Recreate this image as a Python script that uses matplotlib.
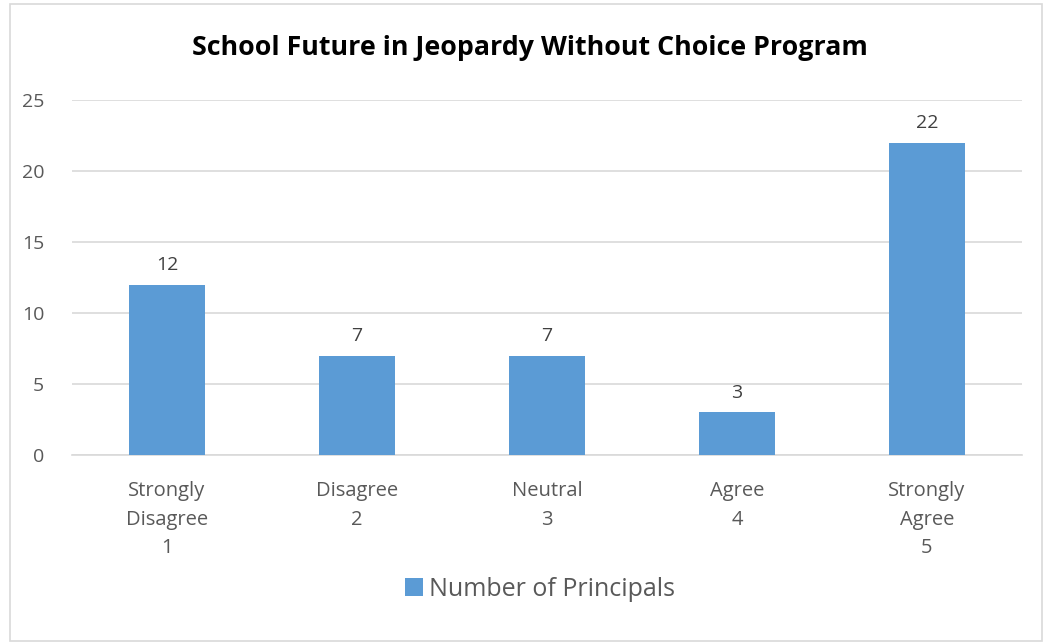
import numpy as np
import matplotlib
matplotlib.use("Agg")
import matplotlib.pyplot as plt
from matplotlib.patches import Rectangle

# data
categories = ["Strongly\nDisagree\n1", "Disagree\n2", "Neutral\n3", "Agree\n4", "Strongly\nAgree\n5"]
principals = [12, 7, 7, 3, 22]
yticks = [0, 5, 10, 15, 20, 25]

plt.rcParams['font.family'] = ['Open Sans', 'DejaVu Sans']
grey = '#595959'
blue = '#5B9BD5'

fig = plt.figure(figsize=(10.46, 6.44), dpi=100)
ax = fig.add_axes([72/1046, 1-455/644, 950/1046, 355/644])

x = np.arange(len(categories))
bars = ax.bar(x, principals, width=0.405, color=blue, zorder=3, label="Number of Principals")
for b, v in zip(bars, principals):
    ax.text(b.get_x() + b.get_width()/2, v + 0.75, str(v), ha='center', va='bottom',
            fontsize=14, color='#404040')

ax.set_xlim(-0.5, len(categories) - 0.5)
ax.set_ylim(0, 25)
ax.set_yticks(yticks)
ax.set_xticks(x)
ax.set_xticklabels(categories, fontsize=14.5, color=grey, linespacing=1.55)
ax.tick_params(axis='y', labelsize=14, labelcolor=grey, length=0, pad=20)
ax.tick_params(axis='x', length=0, pad=19)
ax.grid(axis='y', color='#D9D9D9', linewidth=1.2, zorder=0)
for s in ['top', 'right', 'left']:
    ax.spines[s].set_visible(False)
ax.spines['bottom'].set_color('#D9D9D9')
ax.spines['bottom'].set_linewidth(1.2)

fig.text(530/1046, 1-48/644, "School Future in Jeopardy Without Choice Program",
         ha='center', va='center', fontsize=19.3, fontweight='bold', color='black')

fig.legend(handles=[bars], loc='center', bbox_to_anchor=(540/1046, 1-589/644),
           frameon=False, fontsize=18, handlelength=0.7, handleheight=0.7,
           handletextpad=0.25, labelcolor=grey)

fig.patches.append(Rectangle((10/1046, 3/644), 1032/1046, 637/644, transform=fig.transFigure,
                             fill=False, edgecolor='#D9D9D9', linewidth=1.2))

fig.savefig("out.png", dpi=100)
